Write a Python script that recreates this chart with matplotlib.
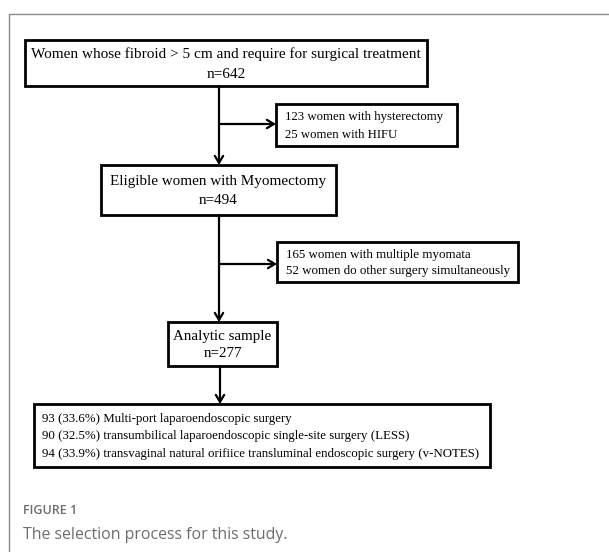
import matplotlib
matplotlib.use("Agg")
import matplotlib.pyplot as plt
from matplotlib.patches import Rectangle

# ---- content ----
main_labels = [
    "Women whose fibroid > 5 cm and require for surgical treatment\nn=642",
    "Eligible women with Myomectomy\nn=494",
    "Analytic sample\nn=277",
]
excluded_labels = [
    "123 women with hysterectomy\n25 women with HIFU",
    "165 women with multiple myomata\n52 women do other surgery simultaneously",
]
group_counts = [93, 90, 94]
group_pcts = ["33.6%", "32.5%", "33.9%"]
group_names = [
    "Multi-port laparoendoscopic surgery",
    "transumbilical laparoendoscopic single-site surgery (LESS)",
    "transvaginal natural orifiice transluminal endoscopic surgery (v-NOTES)",
]
fig_label = "FIGURE 1"
caption = "The selection process for this study."

W, H = 609, 552
fig = plt.figure(figsize=(W / 100, H / 100), dpi=100)
ax = fig.add_axes([0, 0, 1, 1])
ax.set_xlim(0, W)
ax.set_ylim(H, 0)
ax.axis("off")

serif = ["Liberation Serif", "DejaVu Serif"]
LW = 2.0

# outer frame (gray, extends beyond image right/bottom)
ax.plot([8.5, 8.5, W + 5], [H + 5, 14, 14], color="#8a8a8a", lw=1.0)

def box(x0, y0, x1, y1):
    ax.add_patch(Rectangle((x0, y0), x1 - x0, y1 - y0, fill=False,
                           ec="black", lw=LW, zorder=3))

def arrow(x0, y0, x1, y1):
    ax.annotate("", xy=(x1, y1), xytext=(x0, y0),
                arrowprops=dict(arrowstyle="->,head_length=0.5,head_width=0.3",
                                lw=1.6, color="black", shrinkA=0, shrinkB=0),
                zorder=2)

# main boxes
main_boxes = [(25, 40, 427, 86), (101, 165, 336, 215), (168, 322, 277, 366)]
main_sizes = [11.0, 10.9, 10.8]
main_spacing = [1.7, 1.6, 1.35]
for (x0, y0, x1, y1), lab, fs, ls in zip(main_boxes, main_labels, main_sizes, main_spacing):
    box(x0, y0, x1, y1)
    ax.text((x0 + x1) / 2, (y0 + y1) / 2 + 1, lab, ha="center", va="center",
            family=serif, fontsize=fs, linespacing=ls, zorder=4)

# exclusion boxes
ex_boxes = [(276, 104, 457, 146), (277, 242, 518, 282)]
ex_sizes = [9.2, 9.4]
ex_spacing = [1.75, 1.5]
for (x0, y0, x1, y1), lab, fs, ls in zip(ex_boxes, excluded_labels, ex_sizes, ex_spacing):
    box(x0, y0, x1, y1)
    ax.text(x0 + 9, (y0 + y1) / 2 + 1, lab, ha="left", va="center",
            family=serif, fontsize=fs, linespacing=ls, zorder=4)

# final box
fb = (34, 404, 490, 467)
box(*fb)
lines = [f"{c} ({p}) {n}" for c, p, n in zip(group_counts, group_pcts, group_names)]
ax.text(fb[0] + 8, (fb[1] + fb[3]) / 2 + 1, "\n".join(lines), ha="left", va="center",
        family=serif, fontsize=9.3, linespacing=1.65, zorder=4)

# vertical arrows
cx = 219
arrow(cx, 86, cx, 165)
arrow(cx, 215, cx, 322)
arrow(220, 366, 220, 404)
# side arrows
arrow(cx, 124, 276, 124)
arrow(cx, 264, 277, 264)

# caption
ax.text(23, 510, fig_label, ha="left", va="center", family="Open Sans",
        fontsize=9.0, color="#6d6d6d", fontweight="semibold")
ax.text(23, 535, caption, ha="left", va="center", family="Open Sans",
        fontsize=11.4, color="#6d6d6d")

fig.savefig("out.png", dpi=100)
